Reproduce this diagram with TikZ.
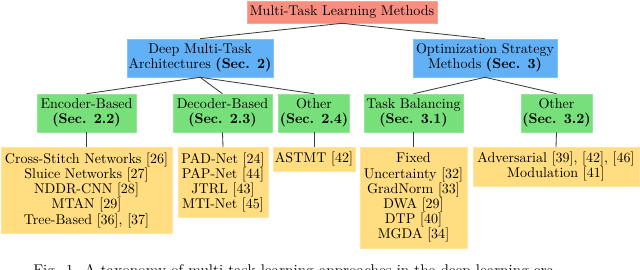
\documentclass[tikz,border=0pt]{standalone}
\usepackage{xcolor}
\definecolor{mtred}{RGB}{248,142,128}
\definecolor{mtblue}{RGB}{98,176,246}
\definecolor{mtgreen}{RGB}{119,224,122}
\definecolor{mtyellow}{RGB}{255,221,128}
\definecolor{mtline}{RGB}{60,60,60}
\usetikzlibrary{positioning}
\tikzset{
  tbox/.style={inner sep=1pt, align=center, font=\fontsize{10}{10.8}\selectfont},
  rootbox/.style={tbox, fill=mtred, draw=mtred!80!white, minimum width=4.75cm, minimum height=0.55cm},
  archbox/.style={tbox, fill=mtblue, draw=mtblue!80!white, minimum width=3.5cm, minimum height=0.95cm},
  catbox/.style={tbox, fill=mtgreen, draw=mtgreen!80!white, minimum height=0.95cm},
  leafbox/.style={tbox, fill=mtyellow, draw=mtyellow!80!white, anchor=north},
  link/.style={draw=mtline, line width=0.6pt}
}
\begin{document}
\begin{tikzpicture}[x=0.025cm, y=-0.025cm]
  \useasboundingbox (0,0) rectangle (640,270);

  %% Root
  \node[rootbox] (root) at (342,12) {Multi-Task Learning Methods};

  %% Level 1
  \node[archbox, minimum width=3.45cm] (deep) at (200,58) {Deep Multi-Task\\Architectures \textbf{(Sec. 2)}};
  \node[archbox, minimum width=3.6cm]  (opt)  at (485,58) {Optimization Strategy\\Methods \textbf{(Sec. 3)}};

  %% Level 2
  \node[catbox, minimum width=2.475cm] (enc)    at (86.5,113)  {Encoder-Based\\\textbf{(Sec. 2.2)}};
  \node[catbox, minimum width=2.475cm] (dec)    at (222.5,113) {Decoder-Based\\\textbf{(Sec. 2.3)}};
  \node[catbox, minimum width=1.55cm]  (otharch) at (314,113)  {Other\\\textbf{(Sec. 2.4)}};
  \node[catbox, minimum width=2.475cm] (bal)    at (413.5,113) {Task Balancing\\\textbf{(Sec. 3.1)}};
  \node[catbox, minimum width=1.575cm] (othopt) at (556.5,113) {Other\\\textbf{(Sec. 3.2)}};

  %% Level 3
  \node[leafbox, minimum width=4.275cm, minimum height=2.15cm]  (encl) at (86.5,147)
    {Cross-Stitch Networks [26]\\Sluice Networks [27]\\NDDR-CNN [28]\\MTAN [29]\\Tree-Based [36], [37]};
  \node[leafbox, minimum width=2.25cm, minimum height=1.75cm]   (decl) at (223,147)
    {PAD-Net [24]\\PAP-Net [44]\\JTRL [43]\\MTI-Net [45]};
  \node[leafbox, minimum width=2.05cm, minimum height=0.6cm]    (othal) at (314,147) {ASTMT [42]};
  \node[leafbox, minimum width=2.675cm, minimum height=2.525cm] (ball) at (413.5,147)
    {Fixed\\Uncertainty [32]\\GradNorm [33]\\DWA [29]\\DTP [40]\\MGDA [34]};
  \node[leafbox, minimum width=4.15cm, minimum height=0.975cm]  (othol) at (556,147)
    {Adversarial [39], [42], [46]\\Modulation [41]};

  %% Connectors
  \draw[link] (root.south) -- (deep.north);
  \draw[link] (root.south) -- (opt.north);
  \foreach \c in {enc,dec,otharch} \draw[link] (deep.south) -- (\c.north);
  \foreach \c in {bal,othopt} \draw[link] (opt.south) -- (\c.north);
  \foreach \p/\c in {enc/encl,dec/decl,otharch/othal,bal/ball,othopt/othol}
    \draw[link] (\p.south) -- (\c.north);

  %% Caption (cut off by the page edge)
  \node[anchor=north west, inner sep=0pt, font=\fontsize{11}{13}\selectfont] (cap) at (33,264)
    {Fig. 1. A taxonomy of multi-task learning approaches in the deep learning era.};
\end{tikzpicture}
\end{document}
